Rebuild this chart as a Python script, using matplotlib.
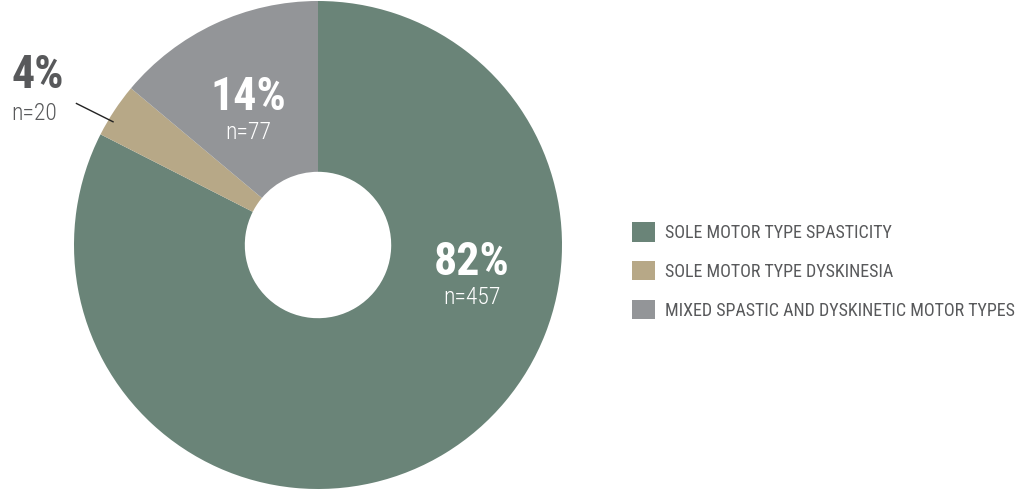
import matplotlib
matplotlib.use('Agg')
import matplotlib.pyplot as plt
from matplotlib import font_manager
from matplotlib.patches import Patch

# motor type counts
labels = ['SOLE MOTOR TYPE SPASTICITY', 'SOLE MOTOR TYPE DYSKINESIA',
          'MIXED SPASTIC AND DYSKINETIC MOTOR TYPES']
counts = [457, 20, 77]
pct_text = ['82%', '4%', '14%']
colors = ['#6a8478', '#b7a887', '#939598']

# pick a narrow face if one is around
names = {f.name for f in font_manager.fontManager.ttflist}
family = 'DejaVu Sans'
for cand in ['Roboto Condensed', 'DejaVu Sans Condensed', 'Liberation Sans Narrow', 'Open Sans Condensed']:
    if cand in names:
        family = cand
        break
plt.rcParams['font.family'] = [family, 'DejaVu Sans']

fig = plt.figure(figsize=(10.23, 4.97), dpi=100)
ax = fig.add_axes([74 / 1023, 8 / 497, 488 / 1023, 488 / 497])

wedges, _ = ax.pie(counts, colors=colors, startangle=90, counterclock=False,
                   radius=1.0, wedgeprops=dict(width=0.70, linewidth=0))
ax.set_xlim(-1, 1)
ax.set_ylim(-1, 1)
ax.set_aspect('equal')

txt = '#58595b'
big = 33
small = 17
# big slice
ax.text(0.63, -0.07, pct_text[0], color='white', fontsize=big, fontweight='bold',
        ha='center', va='center')
ax.text(0.63, -0.215, 'n=%d' % counts[0], color='white', fontsize=small, fontweight='light',
        ha='center', va='center')
# mixed slice
ax.text(-0.287, 0.605, pct_text[2], color='white', fontsize=big, fontweight='bold',
        ha='center', va='center')
ax.text(-0.287, 0.46, 'n=%d' % counts[2], color='white', fontsize=small, fontweight='light',
        ha='center', va='center')
# small slice, labelled outside
ax.text(-1.15, 0.695, pct_text[1], color=txt, fontsize=big, fontweight='bold',
        ha='center', va='center', clip_on=False)
ax.text(-1.165, 0.54, 'n=%d' % counts[1], color=txt, fontsize=small, fontweight='light',
        ha='center', va='center', clip_on=False)
ax.plot([-0.99, -0.84], [0.58, 0.505], color='#222222', lw=1.0, clip_on=False)

handles = [Patch(facecolor=c, edgecolor='none') for c in colors]
fig.legend(handles, labels, loc='center left', bbox_to_anchor=(632 / 1023, 1 - 271 / 497),
           frameon=False, fontsize=13, labelcolor=txt, handlelength=1.27, handleheight=1.27,
           handletextpad=0.55, labelspacing=1.05, borderpad=0, borderaxespad=0)

fig.savefig('out.png', dpi=100)
